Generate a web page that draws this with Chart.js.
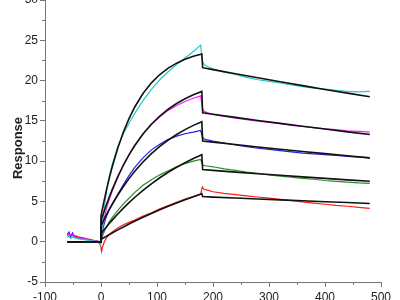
<!DOCTYPE html>
<html>
<head>
<meta charset="utf-8">
<script src="https://cdn.jsdelivr.net/npm/chart.js@4.4.1/dist/chart.umd.min.js"></script>
<style>
html,body{margin:0;padding:0;background:#fff;overflow:hidden;width:400px;height:300px;}
#c{position:absolute;left:0;top:-20px;}
</style>
</head>
<body>
<canvas id="c" width="400" height="320"></canvas>
<script>
// ---- data (time in s, response in RU) ----
const tData = [-60,-57,-54,-51,-48,-44,-40,-35,-30,-25,-20,-15,-10,-5,-1,1,3,6,10,15,20,30,40,50,60,75,90,105,120,135,150,165,178,181,184,190,200,220,240,260,280,300,320,340,360,380,400,420,440,460,480];
const cyanData = [0.5,0.7,0.4,0.6,0.5,0.4,0.35,0.3,0.25,0.2,0.15,0.1,0.05,0.0,-0.4,
  1.0,2.4,4.4,6.3,8.2,9.6,11.8,13.4,14.7,15.9,17.5,18.9,20.1,21.1,22.0,22.8,23.6,24.4,
  22.5,22.0,21.75,21.45,21.05,20.75,20.4,20.1,19.9,19.7,19.45,19.25,19.05,18.95,18.8,18.65,18.6,18.65];
const magentaData = [0.7,1.0,0.8,0.9,0.6,0.55,0.5,0.4,0.35,0.3,0.2,0.15,0.1,0.05,-0.2,
  0.8,1.8,3.0,4.2,5.3,6.3,8.0,9.5,10.8,11.9,13.4,14.6,15.5,16.3,16.9,17.4,17.8,18.1,
  16.6,16.2,16.0,15.8,15.55,15.35,15.15,14.95,14.8,14.65,14.45,14.3,14.15,14.0,13.9,13.75,13.7,13.6];
const blueData = [0.9,1.2,0.6,1.1,0.7,0.55,0.5,0.45,0.35,0.3,0.2,0.15,0.1,0.0,-0.4,
  0.5,1.5,2.3,3.2,4.0,4.6,5.9,7.1,8.2,9.2,10.4,11.4,12.1,12.7,13.1,13.4,13.6,13.8,
  13.0,12.75,12.65,12.5,12.25,12.0,11.8,11.6,11.45,11.3,11.15,11.0,10.9,10.8,10.7,10.6,10.5,10.4];
const greenData = [0.8,0.9,0.7,0.8,0.6,0.5,0.45,0.4,0.35,0.25,0.2,0.15,0.1,0.05,-0.2,
  0.2,0.8,1.3,1.9,2.5,3.0,3.9,4.7,5.4,6.1,7.0,7.7,8.3,8.8,9.3,9.7,10.0,10.2,
  9.6,9.45,9.4,9.3,9.05,8.85,8.65,8.5,8.3,8.15,8.0,7.85,7.75,7.6,7.5,7.4,7.3,7.25];
const redData = [1.0,0.9,0.85,0.8,0.75,0.7,0.6,0.5,0.45,0.35,0.3,0.2,0.1,0.05,-0.3,
  -1.2,-0.6,0.0,0.5,0.9,1.2,1.7,2.1,2.4,2.7,3.2,3.6,4.1,4.5,4.9,5.3,5.6,5.9,
  6.8,6.5,6.4,6.2,6.0,5.85,5.7,5.55,5.4,5.25,5.1,4.95,4.8,4.65,4.5,4.4,4.25,4.15];

const tFit = [-60,0,0,5,10,15,20,30,40,50,60,75,90,105,120,135,150,165,180,181.5,200,240,280,320,360,400,440,480];
const cyanFit = [0,0,3.2,4.92,6.50,7.95,9.28,11.63,13.61,15.28,16.69,18.40,19.72,20.75,21.55,22.16,22.64,23.01,23.30,21.60,21.36,20.84,20.34,19.85,19.37,18.90,18.44,18.00];
const magentaFit = [0,0,2.6,3.66,4.65,5.59,6.47,8.08,9.52,10.78,11.91,13.36,14.58,15.59,16.44,17.15,17.74,18.24,18.65,16.00,15.82,15.43,15.05,14.69,14.33,13.98,13.63,13.30];
const blueFit = [0,0,2.0,2.71,3.38,4.03,4.65,5.80,6.86,7.83,8.71,9.89,10.93,11.83,12.62,13.31,13.91,14.44,14.90,12.50,12.36,12.06,11.76,11.48,11.20,10.93,10.66,10.40];
const greenFit = [0,0,1.0,1.44,1.86,2.28,2.68,3.44,4.17,4.85,5.49,6.38,7.19,7.94,8.62,9.24,9.81,10.33,10.80,8.95,8.85,8.64,8.44,8.24,8.05,7.86,7.68,7.50];
const redFit = [0,0,0.3,0.50,0.70,0.90,1.09,1.47,1.83,2.19,2.53,3.03,3.50,3.96,4.39,4.81,5.21,5.59,5.95,5.60,5.54,5.42,5.30,5.19,5.08,4.96,4.86,4.75];

const xMajor = [-100,0,100,200,300,400,500];
const xMinor = [-50,50,150,250,350,450];
const yMinor = [-2.5,2.5,7.5,12.5,17.5,22.5,27.5];
const yTitle = 'Response';

// ---- build datasets ----
const pts = (ts, vs) => ts.map((t, i) => ({x: t, y: vs[i]}));
const fits = [cyanFit, magentaFit, blueFit, greenFit, redFit].map(v => ({
  data: pts(tFit, v), borderColor: '#111', borderWidth: 1.6, fill: false
}));
const series = [
  [cyanData, '#26c9c9'], [magentaData, '#ff1aff'], [blueData, '#1f1fe6'],
  [greenData, '#2a8a2a'], [redData, '#ff1a1a']
].map(([v, c]) => ({data: pts(tData, v), borderColor: c, borderWidth: 1.2, fill: false}));

const axisColor = '#777';
const tickFont = {family: "'Liberation Sans Narrow','Liberation Sans',Arial,sans-serif", size: 12};

const decorations = {
  id: 'decorations',
  afterDraw(chart) {
    const {ctx, scales: {x, y}} = chart;
    ctx.save();
    ctx.strokeStyle = axisColor;
    ctx.lineWidth = 1;
    ctx.beginPath();
    for (const v of xMinor) {
      const px = Math.round(x.getPixelForValue(v)) + 0.5;
      ctx.moveTo(px, y.bottom); ctx.lineTo(px, y.bottom + 3);
    }
    for (const v of yMinor) {
      const py = Math.round(y.getPixelForValue(v)) + 0.5;
      ctx.moveTo(x.left, py); ctx.lineTo(x.left - 3, py);
    }
    ctx.stroke();
    // y axis title, centred slightly below the middle of the axis as in the reference
    ctx.translate(18.5, (y.top + y.bottom) / 2 + 7);
    ctx.rotate(-Math.PI / 2);
    ctx.fillStyle = '#222';
    ctx.font = "bold 13px 'Liberation Sans',Arial,sans-serif";
    ctx.textAlign = 'center';
    ctx.textBaseline = 'middle';
    ctx.fillText(yTitle, 0, 0);
    ctx.restore();
  }
};

new Chart(document.getElementById('c'), {
  type: 'line',
  data: {datasets: [...fits, ...series]},
  plugins: [decorations],
  options: {
    responsive: false,
    animation: false,
    layout: {padding: {top: 20, right: 19, left: 0, bottom: 0}},
    plugins: {legend: {display: false}, tooltip: {enabled: false}},
    elements: {point: {radius: 0}, line: {tension: 0}},
    scales: {
      x: {
        type: 'linear', min: -100, max: 500,
        afterBuildTicks: s => { s.ticks = xMajor.map(v => ({value: v})); },
        ticks: {color: '#222', font: tickFont, padding: 3, maxRotation: 0},
        grid: {drawOnChartArea: false, tickLength: 5, color: axisColor},
        border: {color: axisColor},
        afterFit: s => { s.height = 18; }
      },
      y: {
        min: -5, max: 30,
        ticks: {stepSize: 5, color: '#222', font: tickFont, padding: 2},
        grid: {drawOnChartArea: false, tickLength: 5, color: axisColor},
        border: {color: axisColor},
        title: {display: false, text: yTitle},
        afterFit: s => { s.width = 45; }
      }
    }
  }
});
</script>
</body>
</html>
